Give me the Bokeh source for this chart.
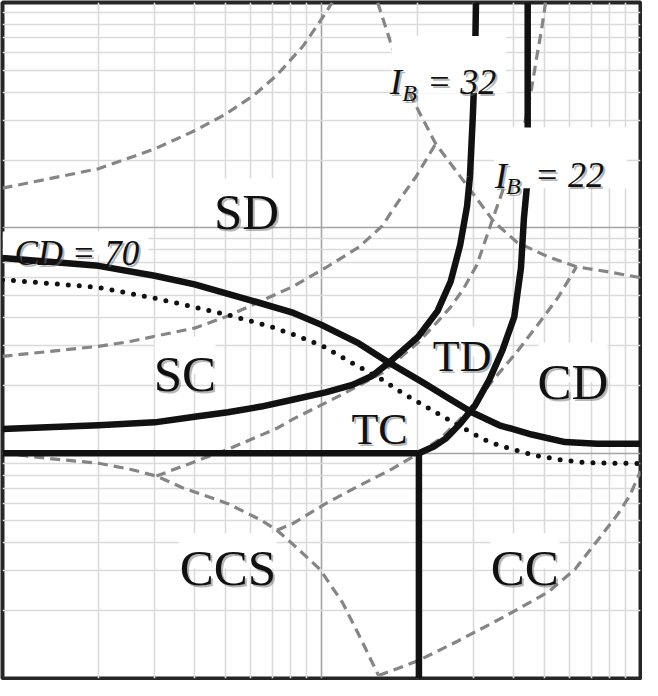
from bokeh.plotting import figure
from bokeh.models import Range1d, FixedTicker, Label, BoxAnnotation
from bokeh.embed import file_html
from bokeh.resources import INLINE

# ---------------- grid ticks (log decades) ----------------
x_major = [1, 10, 100]
x_minor = [2, 3, 4, 5, 6, 7, 8, 9, 20, 30, 40, 50, 60, 70, 80, 90]
y_major = [1, 10, 100, 1000]
y_minor = [2, 3, 4, 5, 6, 7, 8, 9, 20, 30, 40, 50, 60, 70, 80, 90,
           200, 300, 400, 500, 600, 700, 800, 900]

# ---------------- solid boundary curves ----------------
cd70_x = [1, 2.0, 3.0, 4.0, 6.0, 8.17, 10, 13.1, 16.0, 20.9, 25.4, 29.6, 36.1, 45.6, 58.0, 73.2, 100]
cd70_y = [73.5, 67.8, 61.3, 56.1, 47.7, 41.9, 37.1, 30.7, 25.6, 20.5, 17.3, 15.2, 13.3, 12.1, 11.2, 11.0, 11.0]

dot_x = [1, 2.0, 3.0, 4.0, 5.09, 6.95, 8.17, 10, 12.8, 15.5, 17.8, 20.9, 25.9, 29.6, 33.6, 39.6, 46.9, 55.2, 64.9, 82.6, 100]
dot_y = [58.9, 54.4, 48.7, 44.5, 41.1, 36.4, 33.6, 30.1, 24.6, 21.2, 18.6, 16.3, 13.7, 12.3, 11.2, 10.4, 9.77, 9.38, 9.11, 9.02, 9.0]

ib32_x = [1, 2.0, 3.0, 4.0, 5.09, 6.47, 8.17, 10.3, 12.5, 14.4, 16.2, 20.1, 23.1, 25.4, 27.2, 28.6, 29.2, 29.8, 30.3, 30.5]
ib32_y = [12.8, 13.3, 13.7, 14.5, 15.2, 16.1, 17.3, 18.6, 20.1, 22.0, 25.1, 32.9, 42.7, 57.8, 83.7, 125, 169, 309, 564, 1000]

ib22_x = [44.3, 44.3, 44.0, 43.1, 42.2, 40.2, 36.9, 33.6, 30.3, 27.2, 24.5, 22.5, 20.2]
ib22_y = [1000, 279, 150, 110, 66.5, 40.2, 28.6, 21.2, 16.3, 13.5, 11.6, 10.7, 10]

ccs_top_x = [1, 20.2]
ccs_top_y = [10, 10]
cc_left_x = [20.2, 20.2]
cc_left_y = [1, 10]

# ---------------- dashed grey curves ----------------
da_x = [1, 2.0, 3.0, 4.03, 4.98, 6.16, 7.25, 8.77, 10, 10.8]
da_y = [150, 183, 224, 271, 318, 389, 476, 643, 843, 1000]

db_x = [15.0, 16.6, 18.7, 22.8, 28.2, 34.8, 41.0, 51.4, 63.0, 78.6, 100]
db_y = [1000, 643, 405, 236, 158, 106, 86.3, 74.3, 67.2, 63.9, 60.1]

dc_x = [1, 2.0, 2.51, 4.03, 5.09, 6.75, 8.17, 10.3, 13.1, 15.5, 17.8, 19.8, 22.8]
dc_y = [26.9, 29.8, 31.3, 36.0, 40.6, 48.7, 55.0, 66.5, 82.1, 102, 137, 169, 236]

dd_x = [50.4, 49.0, 47.2, 45.6, 43.1, 40.2, 37.4, 33.6, 30.7, 27.8, 25.4, 23.1, 20.1, 17.4, 15.5, 11.6, 9.42, 8.17, 7.25, 5.09, 4.03, 3.04]
dd_y = [1000, 763, 564, 418, 279, 207, 153, 99.3, 68.5, 53.3, 44.5, 38.3, 31.0, 26.1, 22.7, 18.2, 15.7, 14.2, 12.9, 10.4, 9.20, 7.91]

de_x = [1, 1.39, 2.0, 2.51, 3.04, 3.68, 5.09, 6.47, 7.25, 8.17, 9.89, 11.6, 13.1, 15.1]
de_y = [10, 9.48, 9.02, 8.49, 7.91, 7.01, 5.97, 5.04, 4.55, 3.92, 3.05, 2.19, 1.56, 1.03]

df_x = [15.1, 20.1, 26.6, 37.9, 51.4, 62.3, 74.8, 84.4, 92.5, 100]
df_y = [1.03, 1.20, 1.46, 1.90, 2.42, 3.05, 4.25, 5.30, 6.47, 8.32]

dg_x = [7.25, 8.17, 10.3, 13.1, 16.6, 20.2, 23.6, 28.2, 31.3, 34.4, 40.7, 47.9, 55.2, 63.0]
dg_y = [4.55, 4.89, 5.97, 7.16, 8.49, 10, 11.6, 14.9, 17.7, 21.0, 27.8, 37.5, 49.2, 67.2]

# ---------------- figure ----------------
p = figure(width=642, height=680, x_axis_type="log", y_axis_type="log",
           x_range=Range1d(1, 100), y_range=Range1d(1, 1000),
           output_backend="svg", toolbar_location=None, min_border=2)
p.background_fill_color = "white"
p.border_fill_color = "white"
p.outline_line_color = "#262626"
p.outline_line_width = 4

xt = FixedTicker(ticks=x_major, minor_ticks=x_minor)
yt = FixedTicker(ticks=y_major, minor_ticks=y_minor)
p.xaxis.ticker = xt
p.yaxis.ticker = yt
p.xgrid.ticker = xt
p.ygrid.ticker = yt
p.xaxis.visible = False
p.yaxis.visible = False
for g in (p.xgrid, p.ygrid):
    g.grid_line_color = "#a3a3a3"
    g.grid_line_width = 1.6
    g.minor_grid_line_color = "#dadada"
    g.minor_grid_line_width = 1.6

DASH_COLOR = "#858585"
for xs, ys in [(da_x, da_y), (db_x, db_y), (dc_x, dc_y), (dd_x, dd_y),
               (de_x, de_y), (df_x, df_y), (dg_x, dg_y)]:
    p.line(x=xs, y=ys, line_color=DASH_COLOR, line_width=3.2, line_dash="10 6")

p.line(x=dot_x, y=dot_y, line_color="#111111", line_width=5, line_dash="0 11",
       line_cap="round")

SOLID = "#111111"
for xs, ys in [(cd70_x, cd70_y), (ib32_x, ib32_y), (ib22_x, ib22_y),
               (ccs_top_x, ccs_top_y), (cc_left_x, cc_left_y)]:
    p.line(x=xs, y=ys, line_color=SOLID, line_width=6.5, line_join="round")

# white masks behind the texts
masks = [
    (16.6, 37.9, 397, 711),    # I_B = 32
    (34.8, 90.6, 150, 279),    # I_B = 22
    (1.0, 2.87, 75.8, 96.4),   # CD = 70
    (4.58, 7.46, 117, 166),    # SD
    (3.0, 4.64, 22.5, 32.9),   # SC
    (22.5, 33.6, 26.9, 36.4),  # TD
    (12.5, 18.7, 12.7, 17.1),  # TC
    (47.9, 78.6, 20.7, 31.0),  # CD
    (3.57, 7.25, 3.08, 4.42),  # CCS
    (33.9, 55.6, 3.08, 4.42),  # CC
]
for l, r, b, t in masks:
    p.add_layout(BoxAnnotation(left=l, right=r, bottom=b, top=t, fill_color="white",
                               fill_alpha=1.0, line_color=None))

FONT = "Liberation Serif"


def add_text(x, y, text, size, style="normal", align="center", shadow=True):
    if shadow:
        p.add_layout(Label(x=x, y=y, text=text, text_font=FONT, text_font_size=f"{size}px",
                           text_font_style=style, text_align=align, text_baseline="alphabetic",
                           text_color="#707070", text_alpha=0.5, x_offset=2, y_offset=-2))
    p.add_layout(Label(x=x, y=y, text=text, text_font=FONT, text_font_size=f"{size}px",
                       text_font_style=style, text_align=align, text_baseline="alphabetic",
                       text_color="#111111"))


add_text(5.82, 117, "SD", 51)
add_text(3.73, 22.5, "SC", 51)
add_text(27.6, 26.9, "TD", 44)
add_text(15.2, 12.7, "TC", 44)
add_text(61.4, 20.7, "CD", 51)
add_text(5.09, 3.08, "CCS", 51)
add_text(43.4, 3.08, "CC", 51)
add_text(1.09, 77.3, "CD = 70", 35, style="italic", align="left")

add_text(16.4, 444, "I", 36, style="italic", align="left")
add_text(17.9, 395, "B", 24, style="italic", align="left")
add_text(21.4, 444, "= 32", 36, style="italic", align="left")

add_text(35.0, 169, "I", 36, style="italic", align="left")
add_text(37.9, 153, "B", 24, style="italic", align="left")
add_text(46.6, 171, "= 22", 36, style="italic", align="left")

open("out.html", "w").write(file_html(p, INLINE))
